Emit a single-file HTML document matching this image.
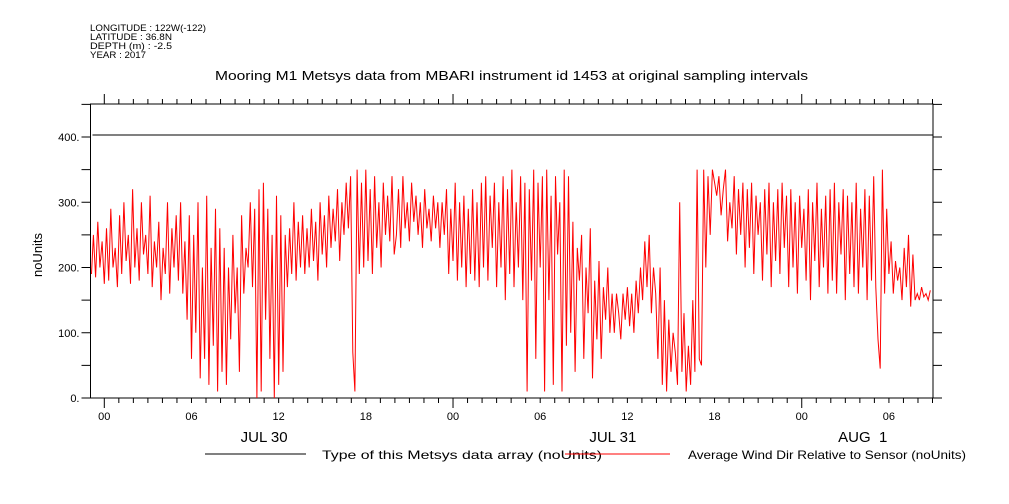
<!DOCTYPE html>
<html><head><meta charset="utf-8"><style>
body{margin:0;background:#fff;}
svg{display:block;font-family:"Liberation Sans",sans-serif;}
</style></head><body>
<svg id="chart" width="1009" height="504" viewBox="0 0 1009 504">
<g font-size="9" fill="#000">
<text x="90" y="31" textLength="116" lengthAdjust="spacingAndGlyphs">LONGITUDE : 122W(-122)</text>
<text x="90" y="40" textLength="82" lengthAdjust="spacingAndGlyphs">LATITUDE : 36.8N</text>
<text x="90" y="49" textLength="82" lengthAdjust="spacingAndGlyphs">DEPTH (m) : -2.5</text>
<text x="90" y="58" textLength="56" lengthAdjust="spacingAndGlyphs">YEAR : 2017</text>
</g>
<text x="215" y="80" font-size="13" textLength="593" lengthAdjust="spacingAndGlyphs">Mooring M1 Metsys data from MBARI instrument id 1453 at original sampling intervals</text>
<text x="0" y="0" font-size="13" text-anchor="middle" transform="translate(42,255) rotate(-90)">noUnits</text>
<g id="axes"></g>
<g id="marks"></g>
<g font-size="12">
<line x1="205" y1="454" x2="306" y2="454" stroke="#000"/>
<text x="322" y="459" textLength="280" lengthAdjust="spacingAndGlyphs">Type of this Metsys data array (noUnits)</text>
<line x1="565" y1="454" x2="670" y2="454" stroke="#ff0000"/>
<text x="688" y="459" textLength="278" lengthAdjust="spacingAndGlyphs">Average Wind Dir Relative to Sensor (noUnits)</text>
</g>
</svg>
<script>
const typeValue = 403;
const t0 = -0.9, dt = 0.15;
const windDir = [
190,250,185,270,200,240,175,260,180,290,200,230,170,280,190,300,210,250,175,320,
200,260,180,300,220,250,190,310,170,240,200,270,150,230,190,300,160,260,200,280,
180,300,160,240,120,280,60,250,100,300,30,200,60,310,20,230,80,290,10,260,
40,230,20,200,90,250,130,200,40,280,160,230,200,300,170,290,0,320,10,330,
120,290,60,250,0,310,20,280,40,250,170,260,190,300,180,270,200,280,190,260,
200,290,210,270,180,300,220,280,200,310,230,290,240,320,210,300,250,330,260,340,
70,10,350,190,330,200,350,210,320,190,340,230,300,200,330,250,310,240,340,220,
250,320,230,340,260,300,240,330,270,310,250,300,230,320,260,290,240,310,260,300,
230,300,250,320,190,290,210,330,180,300,200,310,170,290,190,320,180,300,170,330,
200,340,180,310,230,330,170,300,200,340,150,320,190,350,170,300,200,340,150,330,
10,320,180,350,60,330,200,340,10,350,150,310,20,340,220,300,10,350,80,340,
100,270,40,230,180,250,60,200,130,260,30,180,90,210,60,170,120,200,100,160,
100,160,130,90,160,120,170,110,160,100,180,130,200,150,240,170,250,130,200,160,
60,200,20,150,10,120,40,100,70,20,300,40,130,10,80,20,150,40,350,60,
50,350,200,340,250,350,330,310,340,280,320,350,240,300,260,340,220,320,250,330,
200,320,230,330,190,310,250,300,180,320,220,330,170,300,210,320,190,330,230,310,
170,320,200,300,160,310,230,290,180,320,150,300,210,330,170,290,200,310,160,320,
180,330,160,300,220,320,150,310,190,300,170,330,160,290,200,320,150,310,180,340,
170,90,45,350,160,290,190,240,160,210,180,200,150,230,170,250,140,220,150,160,
150,170,155,160,150,165];
const yTicks = [0,100,200,300,400];
const yTickLabels = ["0.","100.","200.","300.","400."];
const hourLabels = ["00","06","12","18"];
const dayLabels = ["JUL 30","JUL 31","AUG  1"];
const dayLabelHours = [11,35,52.2];

const L=90.5,R=933,T=104,B=398;
const x = h => 104.3 + h*14.53;
const y = v => 398 - v*0.6525;
const NS="http://www.w3.org/2000/svg";
function mk(tag,attrs,parent){const e=document.createElementNS(NS,tag);for(const k in attrs)e.setAttribute(k,attrs[k]);parent.appendChild(e);return e;}
const axes=document.getElementById('axes'), marks=document.getElementById('marks');

const frame=mk('rect',{x:L,y:T,width:R-L,height:B-T,fill:'none',stroke:'#000','stroke-width':1},axes);



for(let v=0;v<=450;v+=50){
  const yy=y(v); if(yy<T) continue;
  const tl=mk('line',{x1:L-9,y1:yy,x2:L,y2:yy,stroke:'#000'},axes);
  
  
  const tr=mk('line',{x1:R,y1:yy,x2:R+9,y2:yy,stroke:'#000'},axes);
  
  
}
yTicks.forEach((v,i)=>{
  const t=mk('text',{x:L-11,y:y(v)+4,'font-size':11,'text-anchor':'end'},axes);
  t.textContent=yTickLabels[i];
  
  
});
for(let h=0;h<=57;h++){
  const xx=x(h); if(xx<L||xx>R) continue;
  const major=(h%24===0);
  const a=mk('line',{x1:xx,y1:T-(major?10:5),x2:xx,y2:T,stroke:'#000'},axes);
  
  
  const b=mk('line',{x1:xx,y1:B,x2:xx,y2:B+(major?10:5),stroke:'#000'},axes);
  
  
  if(h%6===0){
    const t=mk('text',{x:xx,y:420,'font-size':11,'text-anchor':'middle'},axes);
    t.textContent=hourLabels[(h/6)%4];
    
    
  }
}
dayLabels.forEach((d,i)=>{
  const t=mk('text',{x:x(dayLabelHours[i]),y:442,'font-size':15,'text-anchor':'middle'},axes);
  t.setAttribute('xml:space','preserve');
  t.style.whiteSpace='pre';
  t.textContent=d;
  
  
});

const tl=mk('line',{x1:L+2,y1:y(typeValue),x2:R,y2:y(typeValue),stroke:'#000','stroke-width':1},marks);



const pts=windDir.map((v,i)=>{let xx=x(t0+i*dt);xx=Math.max(L+1,Math.min(R-1,xx));return xx.toFixed(1)+','+y(v).toFixed(1);}).join(' ');
const pl=mk('polyline',{points:pts,fill:'none',stroke:'#ff0000','stroke-width':1},marks);


</script>
</body></html>
